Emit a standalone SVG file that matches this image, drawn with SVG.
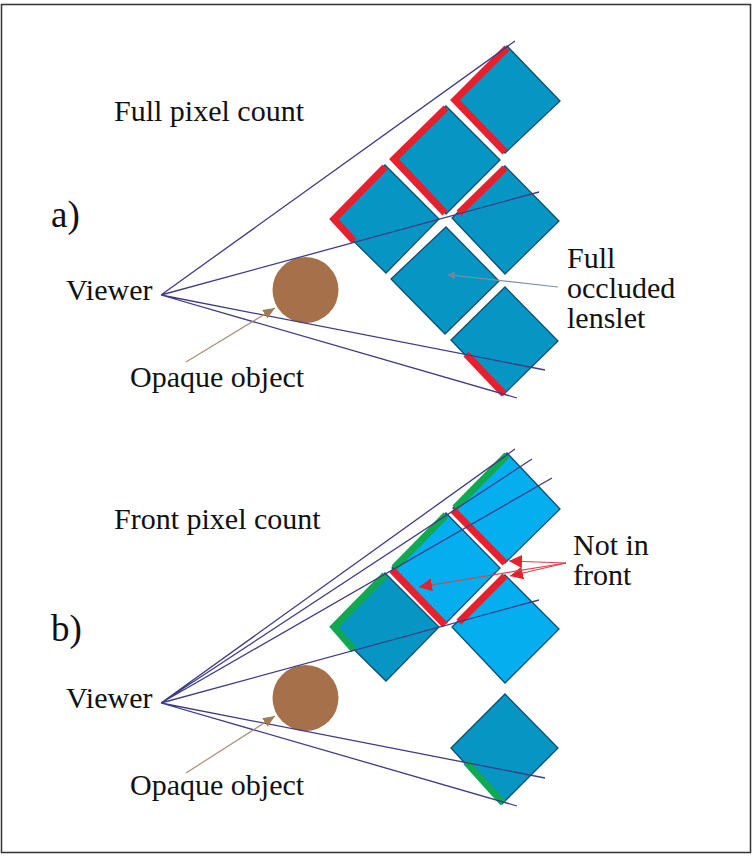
<svg xmlns="http://www.w3.org/2000/svg" width="752" height="856" viewBox="0 0 752 856">
<style>
.t{font-family:"Liberation Serif","Times New Roman",serif;font-size:30px;fill:#111}
.p{font-family:"Liberation Serif","Times New Roman",serif;font-size:37px;fill:#111}
.d{fill:#0795c4;stroke:#0c4f6e;stroke-width:1.3}
.l{fill:#04aeef;stroke:#0c4f74;stroke-width:1.3}
.ray{fill:none;stroke:#3f3c86;stroke-width:1.3}
.r{fill:none;stroke:#e8202e;stroke-width:7}
.g{fill:none;stroke:#10a850;stroke-width:7}
.o{fill:#a5704a}
</style>
<defs>
<marker id="br" markerUnits="userSpaceOnUse" markerWidth="14" markerHeight="12" refX="12" refY="5" orient="auto"><path d="M0 0L12 5L0 10Z" fill="#a37a52"/></marker>
<marker id="re" markerUnits="userSpaceOnUse" markerWidth="15" markerHeight="14" refX="13" refY="6.500" orient="auto"><path d="M0 0L13 6.500L0 13Z" fill="#e8202e"/></marker>
<marker id="gr" markerUnits="userSpaceOnUse" markerWidth="10" markerHeight="10" refX="5" refY="4" orient="auto"><path d="M0 0L8 4L0 8Z" fill="#6f8794"/></marker>
</defs>
<rect x="1.500" y="4.500" width="749" height="848" fill="#fff" stroke="#333" stroke-width="1.5"/>
<g id="panel-a">
<g id="a-lenslet-1"><path class="d" d="M507 46L560 101L505 153L453 100Z"/><path class="r" d="M507 48L455 100L505 152"/></g>
<g id="a-lenslet-2"><path class="d" d="M446 106L500 160L446 214L392 159Z"/><path class="r" d="M446 108L394 159L445 213"/></g>
<g id="a-lenslet-3"><path class="d" d="M385 165L439 219L386 273L331 219Z"/><path class="r" d="M385 167L334 219L354 241"/></g>
<g id="a-lenslet-4"><path class="d" d="M505 166L559 221L505 274L452 218Z"/><path class="r" d="M505 168L459 213"/></g>
<g id="a-lenslet-5"><path class="d" d="M446 227L499 281L445 334L391 279Z"/></g>
<g id="a-lenslet-6"><path class="d" d="M505 287L558 341L503 395L451 340Z"/><path class="r" d="M466 354L504 394"/></g>
<g id="a-object"><circle class="o" cx="305.500" cy="290" r="33"/></g>
<g id="a-labels">
<text class="t" x="114" y="121">Full pixel count</text>
<text class="p" x="51" y="227">a)</text>
<text class="t" x="66" y="300">Viewer</text>
<text class="t" x="130" y="387">Opaque object</text>
<text class="t" x="567" y="268">Full</text>
<text class="t" x="567" y="298">occluded</text>
<text class="t" x="567" y="328">lenslet</text>
</g>
</g>
<g id="panel-b">
<g id="b-lenslet-1"><path class="l" d="M507 453L560 509L505 563L453 508Z"/><path class="g" d="M507 455L455 508"/><path class="r" d="M453 510L505 563"/></g>
<g id="b-lenslet-2"><path class="l" d="M446 513L500 568L446 623L392 568Z"/><path class="g" d="M446 515L394 568"/><path class="r" d="M392 570L445 625"/></g>
<g id="b-lenslet-3"><path class="d" d="M385 573L439 627L386 681L331 627Z"/><path class="g" d="M385 575L334 627L354 650"/></g>
<g id="b-lenslet-4"><path class="l" d="M505 575L559 629L505 683L452 627Z"/><path class="r" d="M505 576L459 622"/></g>
<g id="b-lenslet-5"><path class="d" d="M505 694L558 748L502 804L451 748Z"/><path class="g" d="M466 762L503 803"/></g>
<g id="b-object"><circle class="o" cx="305.500" cy="698" r="33"/></g>
<g id="b-labels">
<text class="t" x="114" y="529">Front pixel count</text>
<text class="p" x="51" y="641">b)</text>
<text class="t" x="66" y="708">Viewer</text>
<text class="t" x="130" y="795">Opaque object</text>
<text class="t" x="573" y="555">Not in</text>
<text class="t" x="573" y="585">front</text>
</g>
</g>
<g id="connectors">
<path class="ray" d="M161 295L515 41M161 295L539 192M161 295L545 370M161 295L517 398"/>
<path class="ray" d="M161 703L515 449M161 703L532 459M161 703L552 478M161 703L539 600M161 703L545 778M161 703L517 806"/>
<path d="M186 362L275 308" fill="none" stroke="#a89078" stroke-width="1.2" marker-end="url(#br)"/>
<path d="M186 773L275 716" fill="none" stroke="#a89078" stroke-width="1.2" marker-end="url(#br)"/>
<path d="M558 287L450 275" fill="none" stroke="#7d93a3" stroke-width="1.2" marker-end="url(#gr)"/>
<path d="M566 563L509 561" fill="none" stroke="#d9434f" stroke-width="1.2" marker-end="url(#re)"/>
<path d="M566 563L510 576" fill="none" stroke="#d9434f" stroke-width="1.2" marker-end="url(#re)"/>
<path d="M566 563L419 587" fill="none" stroke="#d9434f" stroke-width="1.2" marker-end="url(#re)"/>
</g>
</svg>
